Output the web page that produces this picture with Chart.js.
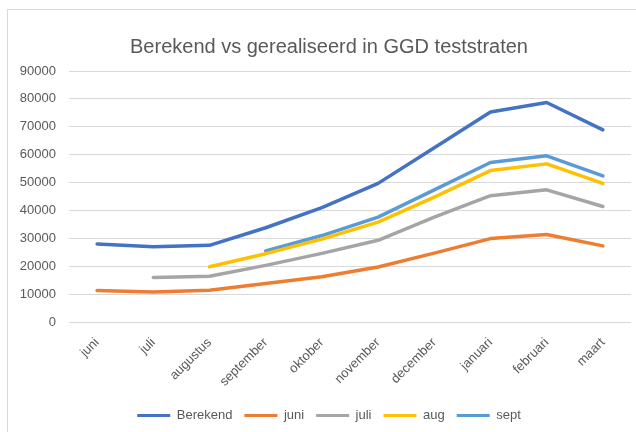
<!DOCTYPE html>
<html>
<head>
<meta charset="utf-8">
<script src="https://cdn.jsdelivr.net/npm/chart.js@4/dist/chart.umd.min.js"></script>
<style>
  html, body { margin: 0; padding: 0; background: #fff; overflow: hidden; }
  #wrap { position: relative; width: 636px; height: 432px; overflow: hidden; }
  #c { position: absolute; left: 0; top: 0; }
  #frame { position: absolute; left: 7px; top: 9px; width: 700px; height: 500px; border: 1px solid #d9d9d9; pointer-events: none; }
</style>
</head>
<body>
<div id="wrap">
  <canvas id="c" width="658" height="432"></canvas>
  <div id="frame"></div>
</div>
<script>
const months = ["juni", "juli", "augustus", "september", "oktober", "november", "december", "januari", "februari", "maart"];
const berekend = [28000, 27000, 27500, 33800, 41000, 49700, 62500, 75300, 78700, 68900];
const juni = [11300, 10800, 11400, 13800, 16200, 19700, 24700, 29900, 31400, 27300];
const juli = [null, 16000, 16400, 20300, 24600, 29300, 37600, 45300, 47400, 41400];
const aug = [null, null, 19800, 24500, 29700, 35800, 44800, 54300, 56700, 49700];
const sept = [null, null, null, 25500, 31000, 37600, 47400, 57200, 59600, 52400];
const yTicks = [0, 10000, 20000, 30000, 40000, 50000, 60000, 70000, 80000, 90000];

const FONT = "'Liberation Sans', Arial, sans-serif";
const TXT = "#595959";

function ds(label, data, color) {
  return { label, data, borderColor: color, backgroundColor: color, borderWidth: 3.5,
           pointRadius: 0, pointHoverRadius: 0, tension: 0, fill: false, spanGaps: false,
           borderCapStyle: 'round', borderJoinStyle: 'round' };
}

new Chart(document.getElementById('c'), {
  type: 'line',
  data: {
    labels: months,
    datasets: [
      ds("Berekend", berekend, "#4472C4"),
      ds("juni", juni, "#ED7D31"),
      ds("juli", juli, "#A5A5A5"),
      ds("aug", aug, "#FFC000"),
      ds("sept", sept, "#5B9BD5")
    ]
  },
  options: {
    responsive: false,
    animation: false,
    devicePixelRatio: 1,
    layout: { padding: { left: 0, right: 0, top: 0, bottom: 0 } },
    plugins: {
      title: {
        display: true,
        text: "Berekend vs gerealiseerd in GGD teststraten",
        color: TXT,
        font: { family: FONT, size: 20, weight: 'normal' },
        padding: { top: 35, bottom: 12 }
      },
      legend: {
        position: 'bottom',
        labels: {
          color: TXT,
          font: { family: FONT, size: 13 },
          boxWidth: 33,
          boxHeight: 3,
          padding: 12,
          generateLabels(chart) {
            const items = Chart.defaults.plugins.legend.labels.generateLabels(chart);
            items.forEach(i => { i.lineWidth = 0; });
            return items;
          }
        }
      },
      tooltip: { enabled: false }
    },
    scales: {
      x: {
        offset: true,
        grid: { display: false, drawTicks: false },
        border: { display: false },
        ticks: { color: TXT, font: { family: FONT, size: 13 }, minRotation: 45, maxRotation: 45, padding: 13, autoSkip: false },
        afterFit(s) { s.height = 75; }
      },
      y: {
        position: 'left',
        min: 0, max: 90000,
        afterBuildTicks(s) { s.ticks = yTicks.map(v => ({ value: v })); },
        grid: { color: "#d9d9d9", lineWidth: 1, drawTicks: false },
        border: { display: false },
        ticks: { color: TXT, font: { family: FONT, size: 13 }, padding: 13, callback: v => String(v) },
        afterFit(s) { s.width = 69; }
      },
      yRight: {
        position: 'right',
        display: true,
        grid: { display: false, drawTicks: false },
        border: { display: false },
        ticks: { display: false },
        afterFit(s) { s.width = 27; }
      }
    }
  }
});
</script>
</body>
</html>
